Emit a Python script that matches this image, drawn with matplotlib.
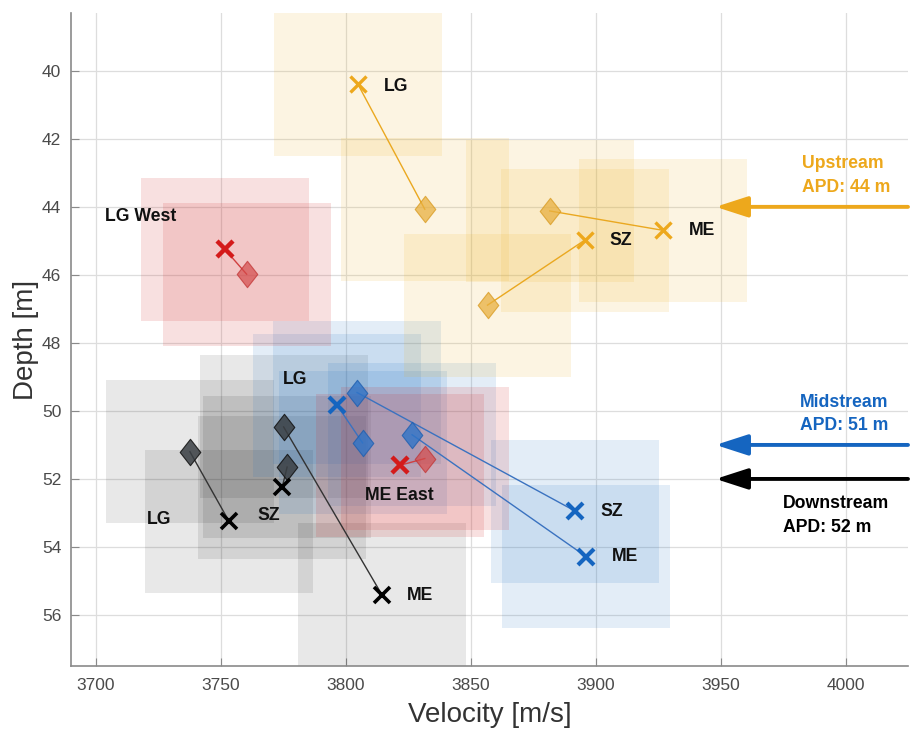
import matplotlib
matplotlib.use("Agg")
import matplotlib.pyplot as plt
from matplotlib.patches import Rectangle
from matplotlib.path import Path

plt.rcParams['font.family'] = ['Liberation Sans', 'DejaVu Sans']

# ---------------- data ----------------
# Upstream (orange)
up_x_vel = [3804.8, 3895.6, 3926.9]
up_x_dep = [40.39, 44.98, 44.69]
up_d_vel = [3831.6, 3856.7, 3881.6]
up_d_dep = [44.07, 46.89, 44.12]
up_labels = ["LG", "SZ", "ME"]
up_lab_vel = [3815.3, 3905.6, 3937.3]
up_lab_dep = [40.45, 44.98, 44.70]

# Red (LG West / ME East)
rd_x_vel = [3751.6, 3821.6]
rd_x_dep = [45.25, 51.60]
rd_d_vel = [3760.3, 3831.6]
rd_d_dep = [45.98, 51.40]
rd_labels = ["LG West", "ME East"]
rd_lab_vel = [3703.6, 3807.6]
rd_lab_dep = [44.29, 52.48]

# Midstream (blue)
md_x_vel = [3796.5, 3891.9, 3896.3]
md_x_dep = [49.83, 52.95, 54.29]
md_d_vel = [3806.7, 3804.5, 3826.5]
md_d_dep = [50.94, 49.46, 50.70]
md_labels = ["LG", "SZ", "ME"]
md_lab_vel = [3774.7, 3902.0, 3906.5]
md_lab_dep = [49.07, 52.97, 54.29]

# Downstream (black)
dn_x_vel = [3753.2, 3774.5, 3814.4]
dn_x_dep = [53.24, 52.25, 55.40]
dn_d_vel = [3737.6, 3776.5, 3775.1]
dn_d_dep = [51.20, 51.65, 50.47]
dn_labels = ["LG", "SZ", "ME"]
dn_lab_vel = [3720.5, 3764.5, 3824.5]
dn_lab_dep = [53.20, 53.07, 55.42]

# uncertainty half-widths (same for all points)
vel_err = [33.6, 33.6, 33.6]
dep_err = [2.1, 2.1, 2.1]

# APD annotations
apd_names = ["Upstream\nAPD: 44 m", "Midstream\nAPD: 51 m", "Downstream\nAPD: 52 m"]
apd_depth = [44, 51, 52]
apd_text_vel = [3982.4, 3981.6, 3974.8]
apd_text_dep = [43.08, 50.09, 53.07]

xticks = [3700, 3750, 3800, 3850, 3900, 3950, 4000]
yticks = [40, 42, 44, 46, 48, 50, 52, 54, 56]

# ---------------- style ----------------
C_OR = '#EDA81C'
C_RD = '#D41A1A'
C_BL = '#1565C0'
C_BK = '#000000'

fig = plt.figure(figsize=(9.10, 7.31), dpi=100)
ax = fig.add_axes([71/910, 65/731, 837/910, 653/731])
ax.set_xlim(3690, 4025)
ax.set_ylim(57.5, 38.3)

diamond = Path([(0, 1), (0.78, 0), (0, -1), (-0.78, 0), (0, 1)],
               [Path.MOVETO, Path.LINETO, Path.LINETO, Path.LINETO, Path.CLOSEPOLY])


def draw_group(xv, xd, dv, dd, color, rect_alpha, d_face, d_alpha, d_edge,
               x_mew, line_color, pairs=None, rect_color=None):
    rc = rect_color if rect_color else color
    for v, d in list(zip(xv, xd)) + list(zip(dv, dd)):
        ax.add_patch(Rectangle((v - vel_err[0], d - dep_err[0]), 2 * vel_err[0], 2 * dep_err[0],
                               facecolor=rc, alpha=rect_alpha, edgecolor='none', zorder=1))
    if pairs is None:
        pairs = list(range(len(xv)))
    for i, j in enumerate(pairs):
        ax.plot([xv[i], dv[j]], [xd[i], dd[j]], color=line_color, lw=1.0, zorder=3)
    ax.plot(dv, dd, linestyle='none', marker=diamond, ms=19, markerfacecolor=d_face,
            alpha=d_alpha, markeredgecolor=d_edge, markeredgewidth=0.8, zorder=4)
    ax.plot(xv, xd, linestyle='none', marker='x', ms=12, mew=x_mew, color=color, zorder=5)


draw_group(dn_x_vel, dn_x_dep, dn_d_vel, dn_d_dep, C_BK, 0.09, '#3a3f44', 0.85, '#111111',
           2.6, '#333333', rect_color='#000000')
draw_group(md_x_vel, md_x_dep, md_d_vel, md_d_dep, C_BL, 0.12, '#2f74c8', 0.8, '#1f5fb0',
           3.0, '#3a72c0', pairs=[0, 1, 2], rect_color='#1b6fc2')
draw_group(rd_x_vel, rd_x_dep, rd_d_vel, rd_d_dep, C_RD, 0.14, '#d44a4a', 0.7, '#c03030',
           3.2, '#d04040', rect_color='#d02a2a')
draw_group(up_x_vel, up_x_dep, up_d_vel, up_d_dep, C_OR, 0.13, '#e8b040', 0.75, '#d89a20',
           2.4, '#eaa820', rect_color='#EDB120')

# labels
for labs, lv, ld in [(up_labels, up_lab_vel, up_lab_dep), (rd_labels, rd_lab_vel, rd_lab_dep),
                     (md_labels, md_lab_vel, md_lab_dep), (dn_labels, dn_lab_vel, dn_lab_dep)]:
    for t, v, d in zip(labs, lv, ld):
        ax.text(v, d, t, fontsize=12.7, fontweight='bold', color='#111111',
                ha='left', va='center', zorder=6)

# APD arrows and text
apd_colors = [C_OR, C_BL, C_BK]
for name, dep, tv, td, c in zip(apd_names, apd_depth, apd_text_vel, apd_text_dep, apd_colors):
    ax.annotate('', xy=(3948, dep), xytext=(4025, dep),
                arrowprops=dict(arrowstyle='-|>,head_length=1.3,head_width=0.42',
                                mutation_scale=15, lw=2.8, color=c,
                                shrinkA=0, shrinkB=0), zorder=6, annotation_clip=False)
    ax.text(tv, td, name, fontsize=12.7, fontweight='bold', color=c, ha='left', va='center',
            linespacing=1.5, zorder=6)

# axes styling
ax.set_xticks(xticks)
ax.set_yticks(yticks)
ax.grid(True, color='#dddddd', lw=0.9, zorder=0)
ax.set_axisbelow(True)
for s in ['top', 'right']:
    ax.spines[s].set_visible(False)
for s in ['left', 'bottom']:
    ax.spines[s].set_color('#8a8a8a')
    ax.spines[s].set_linewidth(1.2)
ax.tick_params(direction='in', length=6, color='#8a8a8a', labelsize=12.5,
               labelcolor='#4a4a4a', pad=7)
ax.tick_params(axis='x', pad=9)
ax.set_xlabel('Velocity [m/s]', fontsize=20, color='#333333', labelpad=6)
ax.set_ylabel('Depth [m]', fontsize=20, color='#333333', labelpad=2)

fig.savefig('out.png', dpi=100)
